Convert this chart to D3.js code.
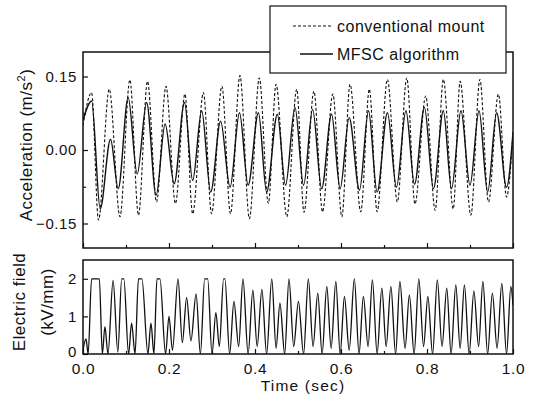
<!DOCTYPE html>
<html>
<head>
<meta charset="utf-8">
<script src="https://cdn.jsdelivr.net/npm/d3@7"></script>
<style>
  body { margin: 0; background: #fff; }
  text { font-family: "Liberation Sans", Arial, sans-serif; fill: #111; }
</style>
</head>
<body>
<div id="chart"></div>
<script>
// values (extrema of each cycle)
const seriesNames = ['conventional mount', 'MFSC algorithm'];

const convT = [0.000, 0.020, 0.036, 0.061, 0.086, 0.109, 0.129, 0.150, 0.171, 0.193, 0.215, 0.237,
  0.255, 0.280, 0.299, 0.323, 0.343, 0.365, 0.387, 0.410, 0.431, 0.449, 0.474, 0.497, 0.514,
  0.537, 0.557, 0.581, 0.602, 0.621, 0.646, 0.666, 0.684, 0.708, 0.731, 0.753, 0.772, 0.797,
  0.819, 0.838, 0.861, 0.877, 0.902, 0.923, 0.943, 0.966, 0.985, 1.000];
const convAccel = [0.05, 0.117, -0.143, 0.124, -0.136, 0.143, -0.133, 0.140, -0.106, 0.130, -0.109, 0.114,
  -0.130, 0.117, -0.130, 0.130, -0.130, 0.152, -0.140, 0.147, -0.109, 0.134, -0.136, 0.124, -0.127,
  0.120, -0.126, 0.114, -0.136, 0.134, -0.126, 0.124, -0.126, 0.144, -0.106, 0.147, -0.110, 0.110,
  -0.123, 0.144, -0.120, 0.140, -0.133, 0.144, -0.106, 0.114, -0.096, 0.035];

const mfscT = [0.000, 0.020, 0.040, 0.064, 0.082, 0.105, 0.126, 0.148, 0.170, 0.191, 0.212, 0.236,
  0.255, 0.276, 0.297, 0.320, 0.342, 0.364, 0.384, 0.408, 0.427, 0.452, 0.471, 0.493, 0.513,
  0.534, 0.555, 0.578, 0.598, 0.619, 0.643, 0.664, 0.684, 0.708, 0.729, 0.751, 0.771, 0.794,
  0.815, 0.838, 0.857, 0.879, 0.900, 0.921, 0.941, 0.962, 0.985, 1.000];
const mfscAccel = [0.06, 0.100, -0.120, 0.022, -0.079, 0.107, -0.049, 0.097, -0.093, 0.053, -0.069, 0.097,
  -0.062, 0.080, -0.086, 0.059, -0.076, 0.076, -0.072, 0.076, -0.086, 0.073, -0.072, 0.087, -0.072,
  0.083, -0.079, 0.073, -0.079, 0.066, -0.082, 0.080, -0.086, 0.076, -0.076, 0.080, -0.070, 0.087,
  -0.079, 0.080, -0.079, 0.080, -0.072, 0.080, -0.086, 0.076, -0.076, 0.036];

const fieldT = [0.000, 0.007, 0.012, 0.020, 0.038, 0.045, 0.051, 0.058, 0.070, 0.081, 0.090, 0.095,
  0.106, 0.113, 0.121, 0.129, 0.137, 0.151, 0.158, 0.165, 0.172, 0.179, 0.192, 0.200, 0.208,
  0.221, 0.231, 0.241, 0.251, 0.263, 0.273, 0.283, 0.290, 0.300, 0.309, 0.317, 0.327, 0.330,
  0.341, 0.351, 0.362, 0.372, 0.384, 0.395, 0.405, 0.416, 0.427, 0.439, 0.449, 0.458, 0.469,
  0.479, 0.490, 0.501, 0.513, 0.524, 0.535, 0.546, 0.556, 0.567, 0.577, 0.588, 0.598, 0.608,
  0.619, 0.631, 0.642, 0.652, 0.663, 0.673, 0.684, 0.695, 0.705, 0.716, 0.727, 0.737, 0.749,
  0.759, 0.770, 0.781, 0.792, 0.802, 0.813, 0.824, 0.835, 0.846, 0.856, 0.867, 0.877, 0.887,
  0.898, 0.909, 0.920, 0.930, 0.941, 0.952, 0.963, 0.974, 0.985, 0.995, 1.000];
const fieldKV = [0.1, 0.4, 0, 2, 2, 0, 0.73, 0, 1.96, 0.05, 2, 2,
  0, 0.82, 0, 2, 2, 0, 0.82, 0, 2, 2, 0, 1.0, 0.1,
  2.0, 0.3, 1.5, 0.35, 1.6, 0, 2, 2, 0, 1.1, 0.2, 2, 2,
  0, 1.4, 0.2, 2.0, 0, 1.7, 0.2, 1.72, 0, 2.0, 0.15, 1.35, 0,
  2.0, 0.2, 1.4, 0, 2.0, 0.2, 1.62, 0, 1.8, 0.15, 1.93, 0, 1.53,
  0.1, 2.0, 0, 1.53, 0.2, 1.97, 0, 1.75, 0.2, 1.8, 0, 1.93, 0.15,
  1.57, 0, 2.0, 0.2, 1.53, 0, 1.97, 0.2, 1.75, 0, 1.84, 0.15, 1.84,
  0, 1.68, 0.2, 1.93, 0, 1.62, 0.15, 1.88, 0, 1.8, 1.3];

const timeTicks = [0, 0.2, 0.4, 0.6, 0.8, 1.0];
const timeMinor = [0.1, 0.3, 0.5, 0.7, 0.9];
const accelTicks = [-0.15, 0, 0.15];
const accelMinor = [-0.075, 0.075];
const fieldTicks = [0, 1, 2];

const W = 535, H = 406;
const L = 83, R = 513;
const topPanel = {y0: 52, y1: 248};
const botPanel = {y0: 260, y1: 354};

const svg = d3.select('#chart').append('svg')
  .attr('width', W)
  .attr('height', H);

const x = d3.scaleLinear().domain([0, 1]).range([L, R]);
const yA = d3.scaleLinear().domain([-0.2, 0.2]).range([topPanel.y1, topPanel.y0]);
const yE = d3.scaleLinear().domain([0, 2.5]).range([botPanel.y1, botPanel.y0]);

function styleAxis(g, fs) {
  g.select('.domain').remove();
  g.selectAll('.tick line').attr('stroke', '#111').attr('stroke-width', 1.2);
  g.selectAll('.tick text')
    .attr('font-size', fs)
    .attr('letter-spacing', 0.6)
    .attr('font-family', '"Liberation Sans", Arial, sans-serif')
    .attr('fill', '#111');
}

function addTicks(axis, transform, fs = 15) {
  return svg.append('g').attr('transform', transform).call(axis).call(styleAxis, fs);
}

// clip paths
[['clipTop', topPanel], ['clipBot', botPanel]].forEach(([id, p]) => {
  svg.append('clipPath').attr('id', id)
    .append('rect')
    .attr('x', L).attr('y', p.y0)
    .attr('width', R - L).attr('height', p.y1 - p.y0);
});

// acceleration traces
let lineA = d3.line()
  .x(d => x(d[0]))
  .y(d => yA(d[1]))
  .curve(d3.curveMonotoneX);

svg.append('path')
  .datum(d3.zip(convT, convAccel))
  .attr('clip-path', 'url(#clipTop)')
  .attr('d', lineA)
  .attr('fill', 'none')
  .attr('stroke', '#111')
  .attr('stroke-width', 1.1)
  .attr('stroke-dasharray', '3,2');

svg.append('path')
  .datum(d3.zip(mfscT, mfscAccel))
  .attr('clip-path', 'url(#clipTop)')
  .attr('d', lineA)
  .attr('fill', 'none')
  .attr('stroke', '#111')
  .attr('stroke-width', 1.4);

// electric field trace
let lineE = d3.line()
  .x(d => x(d[0]))
  .y(d => yE(d[1]))
  .curve(d3.curveMonotoneX);

svg.append('path')
  .datum(d3.zip(fieldT, fieldKV))
  .attr('clip-path', 'url(#clipBot)')
  .attr('d', lineE)
  .attr('fill', 'none')
  .attr('stroke', '#111')
  .attr('stroke-width', 1.3);

// ticks (pointing inward)
addTicks(d3.axisBottom(x).tickValues(timeTicks).tickSize(-5).tickFormat(''),
  `translate(0,${topPanel.y1})`);
addTicks(d3.axisBottom(x).tickValues(timeMinor).tickSize(-3).tickFormat(''),
  `translate(0,${topPanel.y1})`);
addTicks(d3.axisLeft(yA).tickValues(accelTicks).tickSize(-5).tickPadding(6)
  .tickFormat(d3.format('.2f')), `translate(${L},0)`);
addTicks(d3.axisLeft(yA).tickValues(accelMinor).tickSize(-3).tickFormat(''),
  `translate(${L},0)`);

addTicks(d3.axisBottom(x).tickValues(timeTicks).tickSize(-5).tickPadding(9)
  .tickFormat(d3.format('.1f')), `translate(0,${botPanel.y1})`, 15.5);
addTicks(d3.axisBottom(x).tickValues(timeMinor).tickSize(-3).tickFormat(''),
  `translate(0,${botPanel.y1})`);
addTicks(d3.axisLeft(yE).tickValues(fieldTicks).tickSize(-5).tickPadding(6)
  .tickFormat(d3.format('d')), `translate(${L},0)`)
  .selectAll('.tick text').attr('dy', d => d === 0 ? '0.15em' : '0.32em');

// panel frames
[topPanel, botPanel].forEach(p => {
  svg.append('rect')
    .attr('x', L).attr('y', p.y0)
    .attr('width', R - L).attr('height', p.y1 - p.y0)
    .attr('fill', 'none')
    .attr('stroke', '#111')
    .attr('stroke-width', 1.5);
});

// axis titles
let yt = svg.append('text')
  .attr('transform', `translate(32,${(topPanel.y0 + topPanel.y1) / 2 - 5}) rotate(-90)`)
  .attr('text-anchor', 'middle')
  .attr('font-size', 17)
  .attr('letter-spacing', 0.5)
  .text('Acceleration (m/s');
yt.append('tspan').attr('font-size', 11).attr('dy', -7).text('2');
yt.append('tspan').attr('dy', 7).text(')');

const fieldTitle = ['Electric field', '(kV/mm)'];
svg.selectAll('.ftitle')
  .data(fieldTitle)
  .enter().append('text')
  .attr('class', 'ftitle')
  .attr('transform', (d, i) => `translate(${25 + i * 28},302) rotate(-90)`)
  .attr('text-anchor', 'middle')
  .attr('font-size', 17)
  .attr('letter-spacing', 0.5)
  .text(d => d);

svg.append('text')
  .attr('x', (L + R) / 2 + 5)
  .attr('y', 391)
  .attr('text-anchor', 'middle')
  .attr('font-size', 15.5)
  .attr('letter-spacing', 1.2)
  .text('Time (sec)');

// legend box, drawn over the frame
let lg = svg.append('g');
lg.append('rect')
  .attr('x', 270).attr('y', 6)
  .attr('width', 236).attr('height', 67)
  .attr('fill', '#fff')
  .attr('stroke', '#111')
  .attr('stroke-width', 1.2);

let items = lg.selectAll('.item')
  .data(seriesNames)
  .enter().append('g')
  .attr('class', 'item')
  .attr('transform', (d, i) => `translate(0,${26 + i * 28})`);

items.append('line')
  .attr('x1', (d, i) => i === 0 ? 293 : 300)
  .attr('x2', 333)
  .attr('stroke', '#111')
  .attr('stroke-width', (d, i) => i === 0 ? 1.1 : 1.4)
  .attr('stroke-dasharray', (d, i) => i === 0 ? '3,2' : null);

items.append('text')
  .attr('x', 337)
  .attr('y', 6)
  .attr('font-size', 16)
  .attr('letter-spacing', 0.5)
  .text(d => d);
</script>
</body>
</html>
